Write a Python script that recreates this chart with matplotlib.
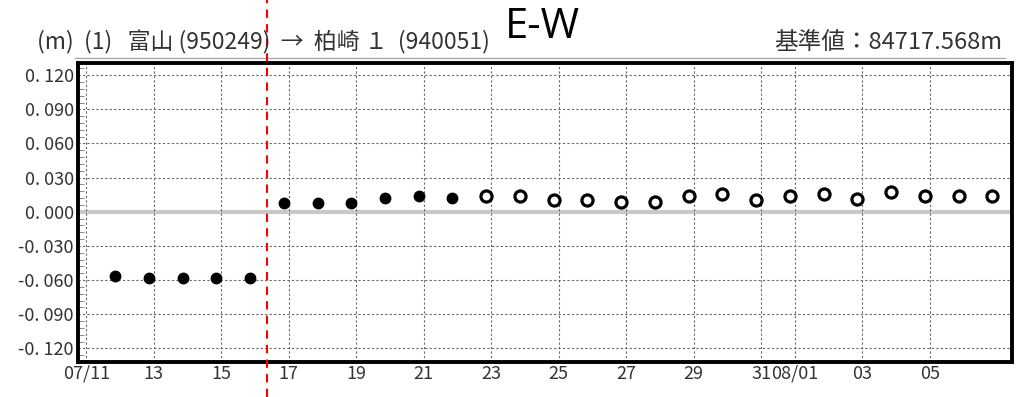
import numpy as np
import matplotlib.pyplot as plt
import matplotlib.transforms as mtransforms
from matplotlib.ticker import MultipleLocator

plt.rcParams['font.family'] = ['Noto Sans CJK JP', 'DejaVu Sans']

# days counted from July (32 = 08/01)
days_before = [12, 13, 14, 15, 16]
vals_before = [-0.056, -0.058, -0.058, -0.058, -0.058]

days_filled = [17, 18, 19, 20, 21, 22]
vals_filled = [0.008, 0.008, 0.008, 0.012, 0.014, 0.012]

days_open = [23, 24, 25, 26, 27, 28, 29, 30, 31, 32, 33, 34, 35, 36, 37, 38]
vals_open = [0.014, 0.014, 0.010, 0.010, 0.009, 0.009, 0.014, 0.016,
             0.010, 0.014, 0.016, 0.011, 0.017, 0.014, 0.014, 0.014]

tick_days = [11, 13, 15, 17, 19, 21, 23, 25, 27, 29, 31, 32, 34, 36]
tick_labels = ['07/11', '13', '15', '17', '19', '21', '23', '25', '27', '29',
               '31', '08/01', '03', '05']
y_ticks = [0.12, 0.09, 0.06, 0.03, 0.0, -0.03, -0.06, -0.09, -0.12]

title_left = '(m)  (1)   富山 (950249)  →  柏崎 １  (940051)'
title_right = '基準値：84717.568m'
event_day = 16.35
shift = -0.15  # points sit a bit before the day tick

fig = plt.figure(figsize=(10.19, 3.97), dpi=100)
ax = fig.add_axes([0.0765, 0.088, 0.9165, 0.753])

ax.set_xlim(10.75, 38.43)
ax.set_ylim(-0.132, 0.1306)

ax.axhline(0, color='#c8c8c8', lw=3, zorder=1)
for y in y_ticks:
    if y != 0:
        ax.axhline(y, color='#666666', lw=0.8, ls=(0, (2, 2)), zorder=1)
for d in tick_days:
    ax.axvline(d, color='#666666', lw=0.8, ls=(0, (2, 2)), zorder=1)

ax.plot(np.array(days_before) + shift, vals_before, 'o', color='black', ms=7.5, zorder=3)
ax.plot(np.array(days_filled) + shift, vals_filled, 'o', color='black', ms=7.5, zorder=3)
ax.plot(np.array(days_open) + shift, vals_open, 'o', mfc='white', mec='black',
        ms=8, mew=2.3, zorder=3)

ax.set_yticks(y_ticks)
ax.set_yticklabels([f'{v:.3f}'.replace('.', '. ') for v in y_ticks])
ax.yaxis.set_minor_locator(MultipleLocator(0.006))
ax.set_xticks(tick_days)
ax.set_xticklabels(tick_labels)
ax.tick_params(axis='both', which='major', length=0, labelsize=13,
               labelcolor='#333333')
ax.tick_params(axis='y', which='major', pad=3)
ax.tick_params(axis='x', which='major', pad=2)
ax.tick_params(axis='y', which='minor', direction='in', length=4, color='#777777')

for s in ax.spines.values():
    s.set_linewidth(2.8)
    s.set_color('black')

# thin line under header
fig.add_artist(plt.Line2D([75 / 1019, 1005 / 1019], [1 - 58 / 397, 1 - 58 / 397],
                          color='#aaaaaa', lw=1))

# red dashed marker across the whole picture
trans = mtransforms.blended_transform_factory(ax.transData, fig.transFigure)
fig.add_artist(plt.Line2D([event_day, event_day], [0, 1], transform=trans,
                          color='red', lw=1.5, ls=(0, (4, 3))))

fig.text(0.036, 0.894, title_left, fontsize=16.5, color='#333333', va='center', ha='left')
fig.text(0.984, 0.894, title_right, fontsize=17, color='#333333', va='center', ha='right')
fig.text(0.532, 0.932, 'E-W', fontsize=30, family='Open Sans', color='black',
         va='center', ha='center')

fig.savefig('out.png', dpi=100)
